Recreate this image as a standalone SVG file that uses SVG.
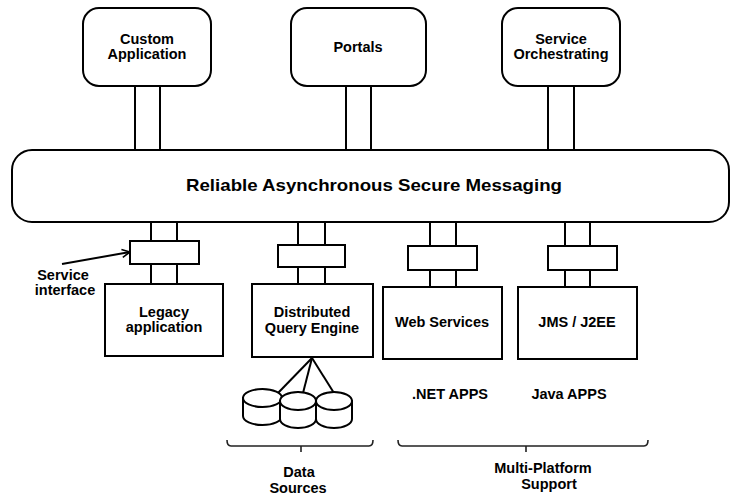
<svg xmlns="http://www.w3.org/2000/svg" width="731" height="495" viewBox="0 0 731 495">
<defs>
<style>
.box{fill:#fff;stroke:#000;stroke-width:2}
.stub{fill:#fff;stroke:#000;stroke-width:2}
.t{font-family:"Liberation Sans",Arial,sans-serif;font-weight:bold;font-size:14.5px;fill:#000;text-anchor:middle}
.big{font-size:17px}
.ln{fill:none;stroke:#000;stroke-width:2}
.brace{fill:none;stroke:#222;stroke-width:1.6}
</style>
<marker id="open" markerWidth="10" markerHeight="10" refX="9" refY="5" orient="auto" markerUnits="userSpaceOnUse">
<path d="M1,1 L9,5 L1,9" fill="none" stroke="#000" stroke-width="1.6"/>
</marker>
</defs>
<rect width="731" height="495" fill="#fff"/>

<g id="connectors">
<rect class="stub" x="135" y="86" width="25" height="64"/>
<rect class="stub" x="346" y="86" width="25" height="64"/>
<rect class="stub" x="548" y="86" width="26" height="64"/>

<rect class="stub" x="151" y="221" width="26" height="20"/>
<rect class="stub" x="151" y="264" width="26" height="20"/>
<rect class="stub" x="298" y="221" width="27" height="24"/>
<rect class="stub" x="298" y="267" width="27" height="17"/>
<rect class="stub" x="430" y="221" width="26" height="25"/>
<rect class="stub" x="430" y="270" width="26" height="17"/>
<rect class="stub" x="565" y="221" width="25" height="25"/>
<rect class="stub" x="565" y="270" width="25" height="17"/>

<rect id="iface-legacy" class="stub" x="130" y="241" width="69" height="23"/>
<rect id="iface-dqe" class="stub" x="278" y="245" width="67" height="22"/>
<rect id="iface-ws" class="stub" x="408" y="246" width="69" height="24"/>
<rect id="iface-jms" class="stub" x="548" y="246" width="69" height="24"/>

<line class="ln" x1="312" y1="358" x2="278" y2="393"/>
<line class="ln" x1="312" y1="358" x2="303" y2="393"/>
<line class="ln" x1="312" y1="358" x2="334" y2="393"/>

<line x1="62" y1="264" x2="130" y2="252" stroke="#000" stroke-width="2" marker-end="url(#open)"/>
</g>

<g id="custom-app">
<rect class="box" x="83" y="8" width="128" height="78" rx="16"/>
<text class="t" x="147" y="44">Custom</text>
<text class="t" x="147" y="59">Application</text>
</g>
<g id="portals">
<rect class="box" x="291" y="8" width="135" height="78" rx="16"/>
<text class="t" x="358" y="52">Portals</text>
</g>
<g id="service-orchestrating">
<rect class="box" x="502" y="8" width="118" height="78" rx="16"/>
<text class="t" x="561" y="44">Service</text>
<text class="t" x="561" y="59">Orchestrating</text>
</g>

<g id="messaging">
<rect class="box" x="12" y="150" width="717" height="72" rx="20"/>
<text class="t big" x="374" y="191" textLength="376" lengthAdjust="spacingAndGlyphs">Reliable Asynchronous Secure Messaging</text>
</g>

<g id="legacy">
<rect class="box" x="105" y="284" width="118" height="72"/>
<text class="t" x="164" y="317">Legacy</text>
<text class="t" x="164" y="332">application</text>
</g>
<g id="dqe">
<rect class="box" x="252" y="284" width="121" height="73"/>
<text class="t" x="312" y="317">Distributed</text>
<text class="t" x="312" y="333">Query Engine</text>
</g>
<g id="web-services">
<rect class="box" x="383" y="287" width="119" height="72"/>
<text class="t" x="442" y="327">Web Services</text>
</g>
<g id="jms">
<rect class="box" x="518" y="287" width="119" height="72"/>
<text class="t" x="577" y="327">JMS / J2EE</text>
</g>

<g id="data-sources">
<g id="cyl1">
<path class="box" d="M243,398 L243,416 A19.5,9 0 0 0 282,416 L282,398 Z"/>
<ellipse class="box" cx="262.5" cy="398" rx="19.5" ry="9"/>
</g>
<g id="cyl2">
<path class="box" d="M280,401 L280,419 A18,9 0 0 0 316,419 L316,401 Z"/>
<ellipse class="box" cx="298" cy="401" rx="18" ry="9"/>
</g>
<g id="cyl3">
<path class="box" d="M316,401 L316,419 A18,9 0 0 0 352,419 L352,401 Z"/>
<ellipse class="box" cx="334" cy="401" rx="18" ry="9"/>
</g>
</g>

<g id="service-interface-label">
<text class="t" x="63" y="280">Service</text>
<text class="t" x="65" y="295">interface</text>
</g>

<g id="net-apps"><text class="t" x="450" y="399">.NET APPS</text></g>
<g id="java-apps"><text class="t" x="569" y="399">Java APPS</text></g>

<g id="data-sources-brace">
<path class="brace" d="M227,440 Q227,446 231,446 L369,446 Q373,446 373,440 M301,446 L301,452"/>
<text class="t" x="299" y="477">Data</text>
<text class="t" x="298" y="493">Sources</text>
</g>
<g id="multi-platform-brace">
<path class="brace" d="M398,440 Q398,446 402,446 L644,446 Q648,446 648,440 M526,446 L526,452"/>
<text class="t" x="543" y="473">Multi-Platform</text>
<text class="t" x="549" y="489">Support</text>
</g>
</svg>
